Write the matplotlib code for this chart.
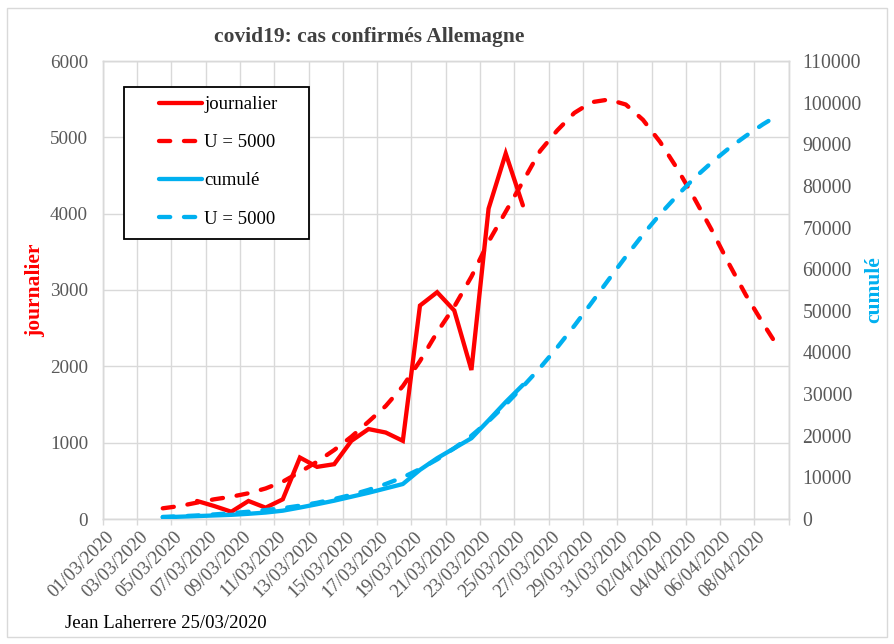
import numpy as np
import matplotlib
matplotlib.use("Agg")
import matplotlib.pyplot as plt
from matplotlib.lines import Line2D
from matplotlib.patches import Rectangle

# ---------------- data ----------------
dates = ["01/03/2020", "02/03/2020", "03/03/2020", "04/03/2020", "05/03/2020",
         "06/03/2020", "07/03/2020", "08/03/2020", "09/03/2020", "10/03/2020",
         "11/03/2020", "12/03/2020", "13/03/2020", "14/03/2020", "15/03/2020",
         "16/03/2020", "17/03/2020", "18/03/2020", "19/03/2020", "20/03/2020",
         "21/03/2020", "22/03/2020", "23/03/2020", "24/03/2020", "25/03/2020",
         "26/03/2020", "27/03/2020", "28/03/2020", "29/03/2020", "30/03/2020",
         "31/03/2020", "01/04/2020", "02/04/2020", "03/04/2020", "04/04/2020",
         "05/04/2020", "06/04/2020", "07/04/2020", "08/04/2020", "09/04/2020"]

# daily confirmed cases, from 06/03/2020 to 25/03/2020
journalier_start = "06/03/2020"
journalier = [236, 170, 95, 236, 148, 258, 805, 683, 718, 1024,
              1178, 1133, 1024, 2796, 2971, 2731, 1952, 4066, 4788, 4109]

# daily model U = 5000, from 04/03/2020 to 09/04/2020
journalier_model_start = "04/03/2020"
journalier_model = [140, 170, 215, 258, 292, 337, 400, 489, 615, 751,
                    904, 1078, 1275, 1480, 1740, 2070, 2446, 2782, 3175, 3633,
                    4026, 4420, 4820, 5090, 5320, 5460, 5495, 5430, 5230, 4940,
                    4590, 4200, 3790, 3350, 2935, 2564, 2210]

# cumulative confirmed cases, from 04/03/2020 to 25/03/2020
cumule_start = "04/03/2020"
cumule = [400, 550, 700, 850, 1000, 1250, 1550, 2000, 2750, 3550,
          4400, 5350, 6300, 7350, 8400, 11800, 14600, 17000, 19400, 23700,
          28100, 32200]

# cumulative model U = 5000, from 04/03/2020 to 09/04/2020
cumule_model_start = "04/03/2020"
cumule_model = [500, 650, 850, 1100, 1400, 1750, 2150, 2600, 3200, 3900,
                4800, 5800, 7000, 8400, 10000, 12000, 14300, 17000, 20000, 23500,
                27500, 31800, 36300, 41200, 46400, 51900, 57500, 63000, 68300, 73200,
                77700, 81900, 85600, 89000, 92000, 94800, 97300]

left_ticks = [0, 1000, 2000, 3000, 4000, 5000, 6000]
right_ticks = [0, 10000, 20000, 30000, 40000, 50000, 60000, 70000, 80000,
               90000, 100000, 110000]

title = "covid19: cas confirmés Allemagne"
footer = "Jean Laherrere 25/03/2020"
legend_labels = ["journalier", "U = 5000", "cumulé", "U = 5000"]

# ---------------- style ----------------
RED = "#FF0000"
BLUE = "#00B0F0"
GRID = "#D9D9D9"
TXT = "#595959"
SERIF = ["Liberation Serif", "DejaVu Serif"]
plt.rcParams["font.family"] = SERIF

W, H = 894, 644
fig = plt.figure(figsize=(W / 100, H / 100), dpi=100)
fig.patch.set_facecolor("white")

# outer chart border
fig.add_artist(Rectangle((7 / W, 1 - 637 / H), (887 - 7) / W, (637 - 8) / H,
                         transform=fig.transFigure, fill=False,
                         edgecolor=GRID, linewidth=1.0))

x0, x1 = 102.7, 788.7
ytop, ybot = 61, 519
ax = fig.add_axes([x0 / W, 1 - ybot / H, (x1 - x0) / W, (ybot - ytop) / H])
ax2 = ax.twinx()


def xs(start, n):
    i0 = dates.index(start)
    return np.arange(i0, i0 + n)


n = len(dates)
ax.set_xlim(-0.5, n - 0.5)
ax.set_ylim(left_ticks[0], left_ticks[-1])
ax2.set_ylim(right_ticks[0], right_ticks[-1])

lw = 3.1
dash = (2.6, 3.2)

ax.plot(xs(journalier_start, len(journalier)), journalier,
        color=RED, lw=lw, solid_joinstyle="miter", solid_capstyle="round", zorder=4)
ax.plot(xs(journalier_model_start, len(journalier_model)), journalier_model,
        color=RED, lw=lw, dashes=dash, dash_capstyle="round", zorder=3)
ax2.plot(xs(cumule_start, len(cumule)), cumule,
         color=BLUE, lw=lw, solid_capstyle="round", zorder=4)
ax2.plot(xs(cumule_model_start, len(cumule_model)), cumule_model,
         color=BLUE, lw=lw, dashes=dash, dash_capstyle="round", zorder=3)

# gridlines / ticks
ax.set_xticks(np.arange(-0.5, n, 2), minor=True)
ax.set_xticks(np.arange(0, n, 2))
ax.set_xticklabels([dates[i] for i in range(0, n, 2)], rotation=45,
                   ha="right", va="center", rotation_mode="anchor",
                   fontsize=13.5, color=TXT)
ax.tick_params(axis="x", which="major", length=0, pad=11)
ax.tick_params(axis="x", which="minor", length=4, color=GRID, width=1)
ax.grid(True, which="minor", axis="x", color=GRID, lw=1.0)
ax.set_yticks(left_ticks)
ax.set_yticklabels([str(v) for v in left_ticks], fontsize=13.8, color=TXT)
ax.tick_params(axis="y", length=0, pad=10.5)
ax.grid(True, which="major", axis="y", color=GRID, lw=1.0)
ax.set_axisbelow(True)

ax2.set_yticks(right_ticks)
ax2.set_yticklabels([str(v) for v in right_ticks], fontsize=14.2, color=TXT)
ax2.tick_params(axis="y", length=0, pad=10)

for a in (ax, ax2):
    for s in a.spines.values():
        s.set_color(GRID)
        s.set_linewidth(1.0)

# axis titles
fig.text(35 / W, 1 - 290 / H, "journalier", rotation=90, ha="center", va="center",
         color=RED, fontsize=15.5, fontweight="bold")
fig.text(874 / W, 1 - 290 / H, "cumulé", rotation=90, ha="center", va="center",
         color=BLUE, fontsize=15.5, fontweight="bold")

# chart title
fig.text(369 / W, 1 - 37 / H, title, ha="center", va="center",
         color="#404040", fontsize=15.5, fontweight="bold")

# footer
fig.text(65 / W, 1 - 624 / H, footer, ha="left", va="center",
         color="black", fontsize=13.5)

# legend (frame drawn separately to match the wide horizontal padding)
handles = [Line2D([], [], color=RED, lw=lw, solid_capstyle="round"),
           Line2D([], [], color=RED, lw=lw, dashes=dash, dash_capstyle="round"),
           Line2D([], [], color=BLUE, lw=lw, solid_capstyle="round"),
           Line2D([], [], color=BLUE, lw=lw, dashes=dash, dash_capstyle="round")]
lx0, ly0, lx1, ly1 = 124.3, 86.7, 309.3, 239.3
fig.add_artist(Rectangle((lx0 / W, 1 - ly1 / H), (lx1 - lx0) / W, (ly1 - ly0) / H,
                         transform=fig.transFigure, fill=True, facecolor="white",
                         edgecolor="black", linewidth=1.3, zorder=5))
leg = fig.legend(handles, legend_labels, loc="upper left",
                 bbox_to_anchor=(159 / W, 1 - 96 / H),
                 bbox_transform=fig.transFigure,
                 fontsize=13.5, frameon=False,
                 handlelength=2.3, handletextpad=0.1, labelspacing=1.12,
                 borderpad=0, borderaxespad=0)
leg.set_zorder(6)
for t in leg.get_texts():
    t.set_color("black")

fig.savefig("out.png", dpi=100, facecolor="white")
